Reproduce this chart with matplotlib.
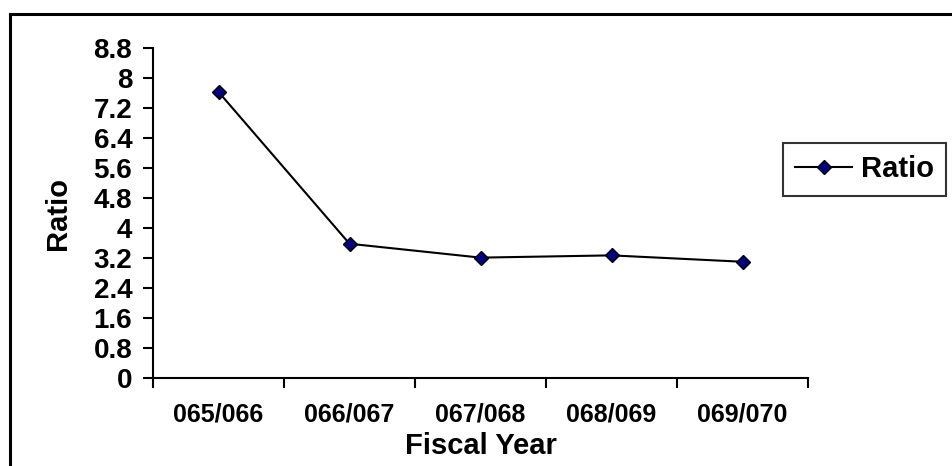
import matplotlib
matplotlib.use("Agg")
import matplotlib.pyplot as plt
from matplotlib.lines import Line2D

# Data
years = ["065/066", "066/067", "067/068", "068/069", "069/070"]
ratio = [7.63, 3.58, 3.21, 3.27, 3.10]
y_ticks = [0, 0.8, 1.6, 2.4, 3.2, 4, 4.8, 5.6, 6.4, 7.2, 8, 8.8]
y_tick_labels = ["0", "0.8", "1.6", "2.4", "3.2", "4", "4.8", "5.6", "6.4", "7.2", "8", "8.8"]

W, H = 952, 466
plt.rcParams["font.family"] = ["Liberation Sans", "DejaVu Sans"]
plt.rcParams["font.weight"] = "bold"

fig = plt.figure(figsize=(W / 100, H / 100), dpi=100)
fig.patch.set_facecolor("white")

# plot area in pixel coordinates
left, right, top, bottom = 153, 808, 48, 378
ax = fig.add_axes([left / W, 1 - bottom / H, (right - left) / W, (bottom - top) / H])

x = list(range(len(years)))
ax.plot(x, ratio, color="black", linewidth=1.5, marker="D", markersize=7.5,
        markerfacecolor="#000080", markeredgecolor="black", markeredgewidth=1.0,
        label="Ratio", zorder=3)

ax.set_xlim(-0.5, len(years) - 0.5)
ax.set_ylim(0, 8.8)

for s in ["top", "right"]:
    ax.spines[s].set_visible(False)
for s in ["left", "bottom"]:
    ax.spines[s].set_linewidth(1.5)
    ax.spines[s].set_color("black")

ax.set_yticks(y_ticks)
ax.set_yticklabels(y_tick_labels, fontsize=20, fontweight="bold")
ax.tick_params(axis="y", direction="out", length=7, width=1.5, pad=8)

# category boundaries as major ticks, category names as minor tick labels
ax.set_xticks([i - 0.5 for i in range(len(years) + 1)])
ax.set_xticklabels([])
ax.tick_params(axis="x", which="major", direction="out", length=7, width=1.5)
ax.set_xticks(x, minor=True)
ax.set_xticklabels(years, minor=True, fontsize=18, fontweight="bold")
ax.tick_params(axis="x", which="minor", length=0, pad=18)

ax.set_ylabel("Ratio", fontsize=21, fontweight="bold")
ax.yaxis.set_label_coords((58 - left) / (right - left), 0.5)
ax.set_xlabel("Fiscal Year", fontsize=21, fontweight="bold")
ax.xaxis.set_label_coords(0.5, -(446 - bottom) / (bottom - top))
ax.xaxis.label.set_va("center")
ax.yaxis.label.set_va("center")

leg = fig.legend(loc="upper left", bbox_to_anchor=(783 / W, 1 - 143 / H),
                 frameon=True, fancybox=False, edgecolor="black",
                 prop={"size": 21, "weight": "bold"}, handlelength=1.95,
                 handletextpad=0.3, borderpad=0.42, borderaxespad=0)
leg.get_frame().set_linewidth(1.5)

# chart border (left and top edges)
fy = 1 - 14 / H
fx = 10 / W
fig.add_artist(Line2D([fx, fx], [0, fy], transform=fig.transFigure,
                      color="black", linewidth=2.2))
fig.add_artist(Line2D([fx, 1], [fy, fy], transform=fig.transFigure,
                      color="black", linewidth=2.2))

fig.savefig("out.png", dpi=100, facecolor="white")
